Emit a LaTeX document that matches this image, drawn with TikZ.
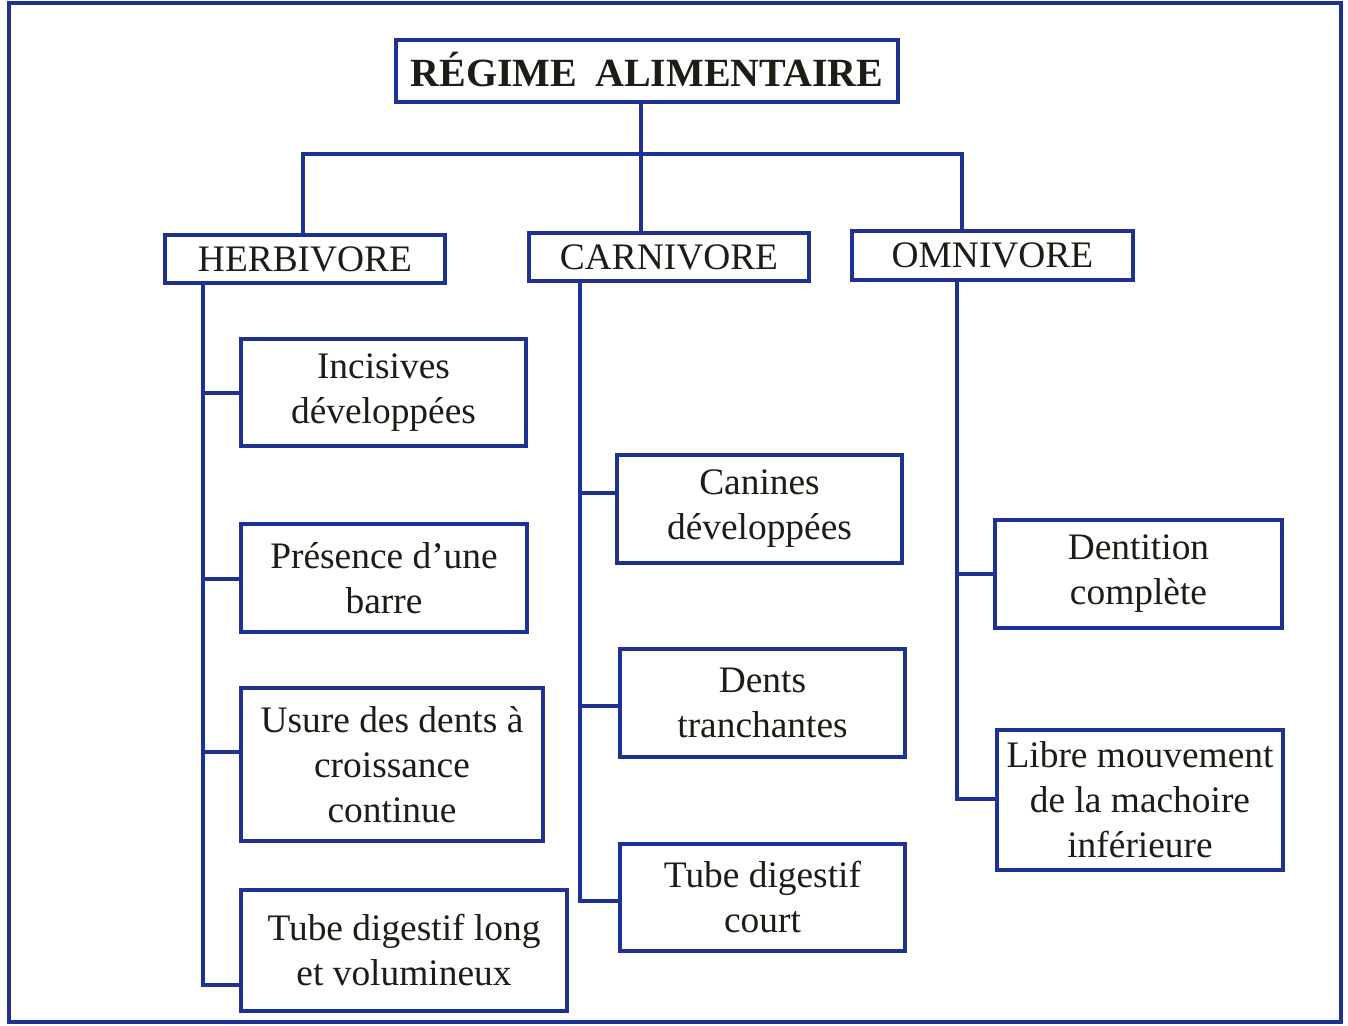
\documentclass[tikz,border=0pt]{standalone}
\usepackage{fontspec}
\setmainfont{Liberation Serif}
\definecolor{lineblue}{RGB}{30,50,150}
\definecolor{textdark}{RGB}{30,28,20}
\begin{document}
\begin{tikzpicture}[x=1pt,y=-1pt,
  conn/.style={draw=lineblue,line width=3.2pt},
  box/.style={draw=lineblue,line width=3.2pt,fill=white,rectangle,inner sep=0pt,align=center,
     text=textdark,font=\fontsize{37.4}{45}\selectfont},
  catbox/.style={box,minimum height=48pt,minimum width=280pt},
]
\useasboundingbox (0,0) rectangle (1348,1025);
\draw[conn] (9,3) rectangle (1341,1022);

% junction coordinates
\coordinate (hj) at (303,154);
\coordinate (cj) at (641,154);
\coordinate (oj) at (962,154);

% nodes
\node[box,minimum width=502pt,minimum height=62pt,font=\bfseries\fontsize{40}{45}\selectfont] (title) at (647,71) {\raisebox{4pt}{RÉGIME\hspace{0.45em}ALIMENTAIRE}};
\node[catbox] (herb) at (305,259) {HERBIVORE};
\node[catbox] (carn) at (669,257) {CARNIVORE};
\node[catbox,minimum width=281pt,minimum height=49pt] (omni) at (992.5,255.5) {OMNIVORE};

\node[box,minimum width=285pt,minimum height=107pt] (inc) at (383.5,392.5) {Incisives\\développées};
\node[box,minimum width=286pt,minimum height=108pt] (pres) at (384,578) {Présence d’une\\barre};
\node[box,minimum width=302pt,minimum height=153pt] (usure) at (392,764.5) {Usure des dents à\\croissance\\continue};
\node[box,minimum width=326pt,minimum height=121pt] (htube) at (404,950.5) {Tube digestif long\\et volumineux};

\node[box,minimum width=285pt,minimum height=108pt] (canines) at (759.5,509) {Canines\\développées};
\node[box,minimum width=285pt,minimum height=108pt] (dents) at (762.5,703) {Dents\\tranchantes};
\node[box,minimum width=285pt,minimum height=107pt] (ctube) at (762.5,897.5) {Tube digestif\\court};

\node[box,minimum width=287pt,minimum height=108pt] (dentition) at (1138.5,574) {Dentition\\complète};
\node[box,minimum width=286pt,minimum height=140pt] (libre) at (1140,800) {Libre mouvement\\de la machoire\\inférieure};

% top tree
\draw[conn] (title.south -| cj) -- (carn.north -| cj);
\draw[conn] (herb.north -| hj) -- (hj) -- (oj) -- (omni.north -| oj);

% herbivore branches
\coordinate (h1) at (203,393);
\coordinate (h2) at (203,579);
\coordinate (h3) at (203,752);
\coordinate (h4) at (203,985);
\draw[conn] (herb.south -| h1) -- (h4) -- (h4 -| htube.west);
\draw[conn] (h1) -- (h1 -| inc.west);
\draw[conn] (h2) -- (h2 -| pres.west);
\draw[conn] (h3) -- (h3 -| usure.west);

% carnivore branches
\coordinate (c1) at (580,493);
\coordinate (c2) at (580,706);
\coordinate (c3) at (580,901);
\draw[conn] (carn.south -| c1) -- (c3) -- (c3 -| ctube.west);
\draw[conn] (c1) -- (c1 -| canines.west);
\draw[conn] (c2) -- (c2 -| dents.west);

% omnivore branches
\coordinate (o1) at (957,574);
\coordinate (o2) at (957,799);
\draw[conn] (omni.south -| o1) -- (o2) -- (o2 -| libre.west);
\draw[conn] (o1) -- (o1 -| dentition.west);
\end{tikzpicture}
\end{document}
